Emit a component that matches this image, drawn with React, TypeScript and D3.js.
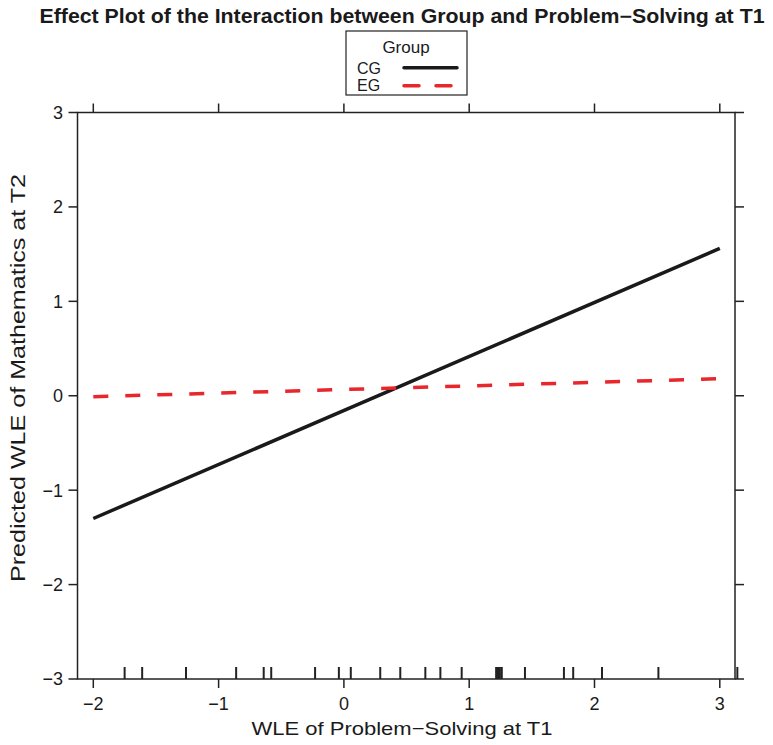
import React from 'react';
import * as d3 from 'd3';

const groups = ['CG', 'EG'];
const xPoints = [-2, 3];
const cgFit = [-1.3, 1.56];
const egFit = [-0.01, 0.18];
const xTicks = [-2, -1, 0, 1, 2, 3];
const yTicks = [-3, -2, -1, 0, 1, 2, 3];
const rugValues = [
  -1.75, -1.61, -1.26, -0.86, -0.64, -0.58, -0.23, -0.04, 0.055, 0.29, 0.45,
  0.65, 0.77, 0.94, 1.215, 1.23, 1.245, 1.26, 1.445, 1.756, 1.83, 2.06, 2.51, 3.14,
];

const W = 773;
const H = 745;
const colors = { CG: '#1a1a1a', EG: '#e8262b' };
const font = '"Liberation Sans", Arial, Helvetica, sans-serif';

const App = () => {
  const x = d3.scaleLinear().domain([-2, 3]).range([93.3, 719.8]);
  const y = d3.scaleLinear().domain([-3, 3]).range([679, 112.5]);
  const left = 77.5;
  const right = 735;
  const top = y(3);
  const bottom = y(-3);

  const line = d3
    .line<[number, number]>()
    .x(d => x(d[0]))
    .y(d => y(d[1]));

  const series = [
    { name: 'CG', values: cgFit, dash: null },
    { name: 'EG', values: egFit, dash: '15 17' },
  ];

  const axisColor = '#222';
  const fmt = (t: number) => (t < 0 ? '−' + Math.abs(t) : String(t));

  return (
    <svg
      width={W}
      height={H}
      style={{ position: 'absolute', left: 0, top: 0, background: '#fff' }}
      fontFamily={font}
    >
      {/* title */}
      <text
        x={402}
        y={23}
        textAnchor="middle"
        fontWeight="bold"
        fontSize={19.5}
        textLength={725}
        lengthAdjust="spacingAndGlyphs"
        fill="#1a1a1a"
      >
        Effect Plot of the Interaction between Group and Problem−Solving at T1
      </text>

      {/* legend */}
      <g>
        <rect x={346} y={31} width={121} height={64} fill="none" stroke={axisColor} strokeWidth={1.2} />
        <text x={406} y={53} textAnchor="middle" fontSize={17} fill="#1a1a1a">
          Group
        </text>
        {groups.map((g, i) => (
          <g key={g}>
            <text x={357} y={73.5 + i * 17} fontSize={16} fill="#1a1a1a">
              {g}
            </text>
            <line
              x1={404}
              x2={457}
              y1={67.7 + i * 18}
              y2={67.7 + i * 18}
              stroke={colors[g]}
              strokeWidth={3.5}
              strokeDasharray={series[i].dash ?? undefined}
              strokeLinecap="round"
            />
          </g>
        ))}
      </g>

      {/* frame */}
      <rect x={left} y={top} width={right - left} height={bottom - top} fill="none" stroke={axisColor} strokeWidth={1.5} />

      {/* x ticks top and bottom */}
      {xTicks.map(t => (
        <g key={'x' + t}>
          <line x1={x(t)} x2={x(t)} y1={top} y2={top - 9} stroke={axisColor} strokeWidth={1.5} />
          <line x1={x(t)} x2={x(t)} y1={bottom} y2={bottom + 9} stroke={axisColor} strokeWidth={1.5} />
          <text x={x(t)} y={709.5} textAnchor="middle" fontSize={18} fill="#1a1a1a">
            {fmt(t)}
          </text>
        </g>
      ))}

      {/* y ticks left and right */}
      {yTicks.map(t => (
        <g key={'y' + t}>
          <line x1={left} x2={left - 9} y1={y(t)} y2={y(t)} stroke={axisColor} strokeWidth={1.5} />
          <line x1={right} x2={right + 9} y1={y(t)} y2={y(t)} stroke={axisColor} strokeWidth={1.5} />
          <text x={63} y={y(t)} dy="0.36em" textAnchor="end" fontSize={18} fill="#1a1a1a">
            {fmt(t)}
          </text>
        </g>
      ))}

      {/* rug */}
      {rugValues.map((v, i) => (
        <line key={'r' + i} x1={x(v)} x2={x(v)} y1={bottom} y2={bottom - 12} stroke={axisColor} strokeWidth={2} />
      ))}

      {/* effect lines */}
      {series.map(s => (
        <path
          key={s.name}
          d={line(xPoints.map((xv, i) => [xv, s.values[i]]) as [number, number][]) ?? ''}
          fill="none"
          stroke={colors[s.name]}
          strokeWidth={3.5}
          strokeDasharray={s.dash ?? undefined}
        />
      ))}

      {/* axis labels */}
      <text
        x={402}
        y={735}
        textAnchor="middle"
        fontSize={19}
        textLength={301}
        lengthAdjust="spacingAndGlyphs"
        fill="#1a1a1a"
      >
        WLE of Problem−Solving at T1
      </text>
      <text
        transform="translate(25,378) rotate(-90)"
        textAnchor="middle"
        fontSize={20}
        textLength={408}
        lengthAdjust="spacingAndGlyphs"
        fill="#1a1a1a"
      >
        Predicted WLE of Mathematics at T2
      </text>
    </svg>
  );
};

export default App;
